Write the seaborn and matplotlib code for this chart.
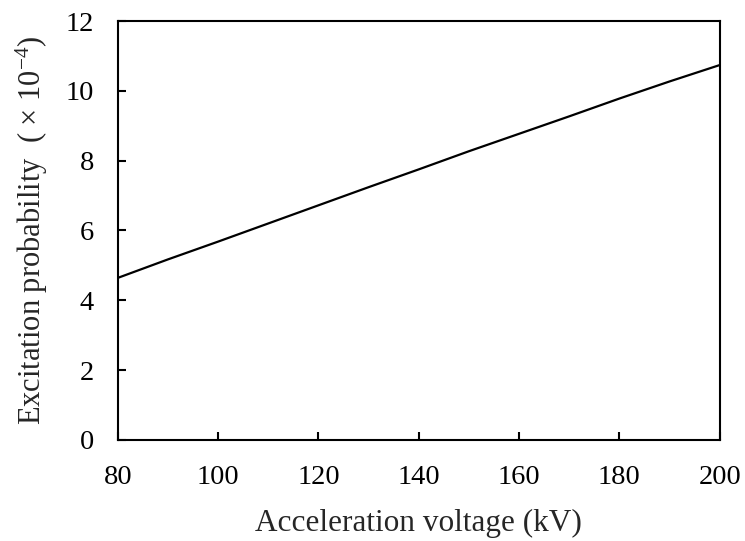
import numpy as np
import pandas as pd
import matplotlib
matplotlib.use("Agg")
import matplotlib.pyplot as plt
import seaborn as sns

# values
voltage = [80, 90, 100, 110, 120, 130, 140, 150, 160, 170, 180, 190, 200]
prob = [4.64, 5.17, 5.68, 6.20, 6.72, 7.24, 7.75, 8.27, 8.77, 9.27, 9.78, 10.27, 10.74]

df = pd.DataFrame({"voltage": voltage, "prob": prob})

sns.set_style("ticks")
plt.rcParams["font.family"] = ["Liberation Serif", "DejaVu Serif"]
plt.rcParams["mathtext.fontset"] = "custom"
plt.rcParams["mathtext.rm"] = "Liberation Serif"
plt.rcParams["mathtext.it"] = "Liberation Serif:italic"

fig = plt.figure(figsize=(7.45, 5.41), dpi=100)
ax = fig.add_axes([0.158, 0.187, 0.808, 0.774])

sns.lineplot(data=df, x="voltage", y="prob", color="black", linewidth=1.6, ax=ax)

ax.set_xlim(80, 200)
ax.set_ylim(0, 12)
ax.set_xticks(np.arange(80, 201, 20))
ax.set_yticks(np.arange(0, 13, 2))
ax.tick_params(direction="in", length=6, width=1.5, labelsize=20.5, colors="black")
ax.tick_params(axis="x", pad=18)
ax.tick_params(axis="y", pad=17)
for s in ax.spines.values():
    s.set_linewidth(1.5)
    s.set_color("black")

ax.set_xlabel("Acceleration voltage (kV)", fontsize=22.5, labelpad=14)
ax.set_ylabel(r"Excitation probability  ( $\times$ 10$^{-4}$)", fontsize=22, labelpad=11)

fig.savefig("out.png", dpi=100)
